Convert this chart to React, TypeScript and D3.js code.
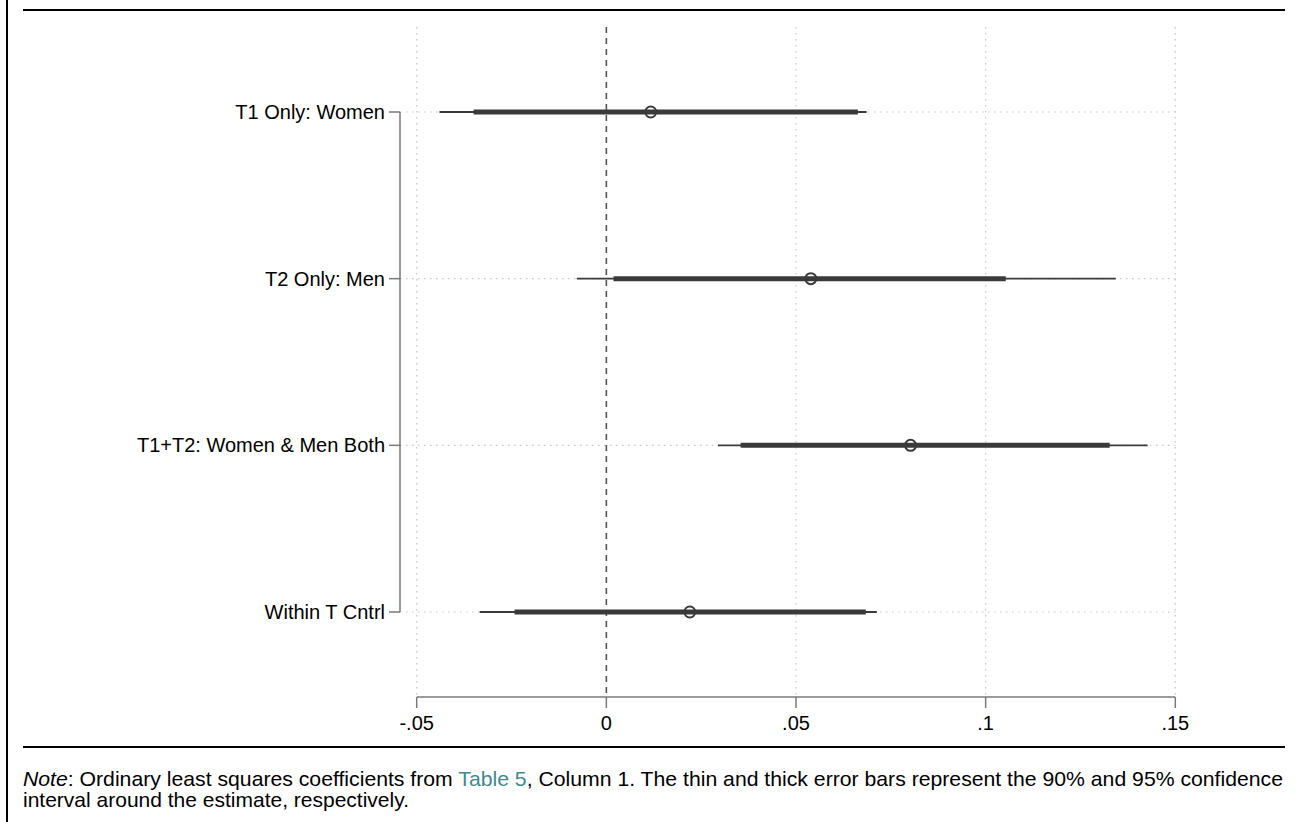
import React from "react";
import * as d3 from "d3";

const categories = ["T1 Only: Women", "T2 Only: Men", "T1+T2: Women & Men Both", "Within T Cntrl"];
const estimates = [0.0117, 0.0539, 0.0802, 0.022];
const thinLo = [-0.044, -0.0078, 0.0294, -0.0334];
const thinHi = [0.0686, 0.1343, 0.1427, 0.0713];
const thickLo = [-0.035, 0.0019, 0.0354, -0.0242];
const thickHi = [0.0663, 0.1053, 0.1327, 0.0684];
const xTicks = [-0.05, 0, 0.05, 0.1, 0.15];
const xTickLabels = ["-.05", "0", ".05", ".1", ".15"];

const W = 1297;
const H = 822;
const FONT = "'Liberation Sans', Arial, Helvetica, sans-serif";

export default function App() {
  const x = d3.scaleLinear().domain([-0.05, 0.15]).range([416.7, 1175.3]);
  const y = d3.scalePoint<string>().domain(categories).range([27, 697]).padding(0.51);
  const axisY = 697;
  const yAxisX = 400;
  const dark = "#3a3a3a";
  const grid = "#c8c8c8";
  const axisCol = "#7a7a7a";

  return (
    <svg width={W} height={H} style={{ position: "absolute", left: 0, top: 0, background: "#fff" }}>
      {/* frame rules */}
      <line x1={7} x2={7} y1={0} y2={H} stroke="#000" strokeWidth={2} />
      <line x1={23} x2={1285} y1={10} y2={10} stroke="#000" strokeWidth={2} />
      <line x1={23} x2={1285} y1={747} y2={747} stroke="#000" strokeWidth={2} />

      {/* vertical gridlines */}
      {xTicks.filter((t) => t !== 0).map((t, i) => (
        <line key={"vg" + i} x1={x(t)} x2={x(t)} y1={27} y2={axisY} stroke={grid} strokeWidth={1.2} strokeDasharray="1.5 4.5" />
      ))}
      {/* horizontal gridlines */}
      {categories.map((c) => (
        <line key={"hg" + c} x1={yAxisX} x2={x(0.15)} y1={y(c)} y2={y(c)} stroke={grid} strokeWidth={1.2} strokeDasharray="1.5 4.5" />
      ))}
      {/* zero line */}
      <line x1={x(0)} x2={x(0)} y1={27} y2={axisY} stroke="#555" strokeWidth={1.6} strokeDasharray="6 5" />

      {/* x axis */}
      <line x1={x(-0.05)} x2={x(0.15)} y1={axisY} y2={axisY} stroke={axisCol} strokeWidth={1.5} />
      {xTicks.map((t, i) => (
        <g key={"xt" + i}>
          <line x1={x(t)} x2={x(t)} y1={axisY} y2={axisY + 11} stroke={axisCol} strokeWidth={1.5} />
          <text x={x(t)} y={axisY + 33} textAnchor="middle" fontFamily={FONT} fontSize={20} fill="#000">
            {xTickLabels[i]}
          </text>
        </g>
      ))}

      {/* y axis */}
      <line x1={yAxisX} x2={yAxisX} y1={y(categories[0])} y2={y(categories[categories.length - 1])} stroke={axisCol} strokeWidth={1.5} />
      {categories.map((c) => (
        <g key={"yt" + c}>
          <line x1={yAxisX - 11} x2={yAxisX} y1={y(c)} y2={y(c)} stroke={axisCol} strokeWidth={1.5} />
          <text x={yAxisX - 15} y={(y(c) as number) + 7} textAnchor="end" fontFamily={FONT} fontSize={20} fill="#000">
            {c}
          </text>
        </g>
      ))}

      {/* error bars */}
      {categories.map((c, i) => (
        <g key={"eb" + c}>
          <line x1={x(thinLo[i])} x2={x(thinHi[i])} y1={y(c)} y2={y(c)} stroke={dark} strokeWidth={1.8} />
          <line x1={x(thickLo[i])} x2={x(thickHi[i])} y1={y(c)} y2={y(c)} stroke={dark} strokeWidth={5} />
          <circle cx={x(estimates[i])} cy={y(c)} r={5.5} fill="none" stroke={dark} strokeWidth={2} />
        </g>
      ))}

      {/* note */}
      <text x={23} y={786} fontFamily={FONT} fontSize={21} fill="#000" textLength={1260} lengthAdjust="spacingAndGlyphs">
        <tspan fontStyle="italic">Note</tspan>
        <tspan>: Ordinary least squares coefficients from </tspan>
        <tspan fill="#3f8a8c">Table 5</tspan>
        <tspan>, Column 1. The thin and thick error bars represent the 90% and 95% confidence</tspan>
      </text>
      <text x={23} y={807} fontFamily={FONT} fontSize={21} fill="#000">
        interval around the estimate, respectively.
      </text>
    </svg>
  );
}
